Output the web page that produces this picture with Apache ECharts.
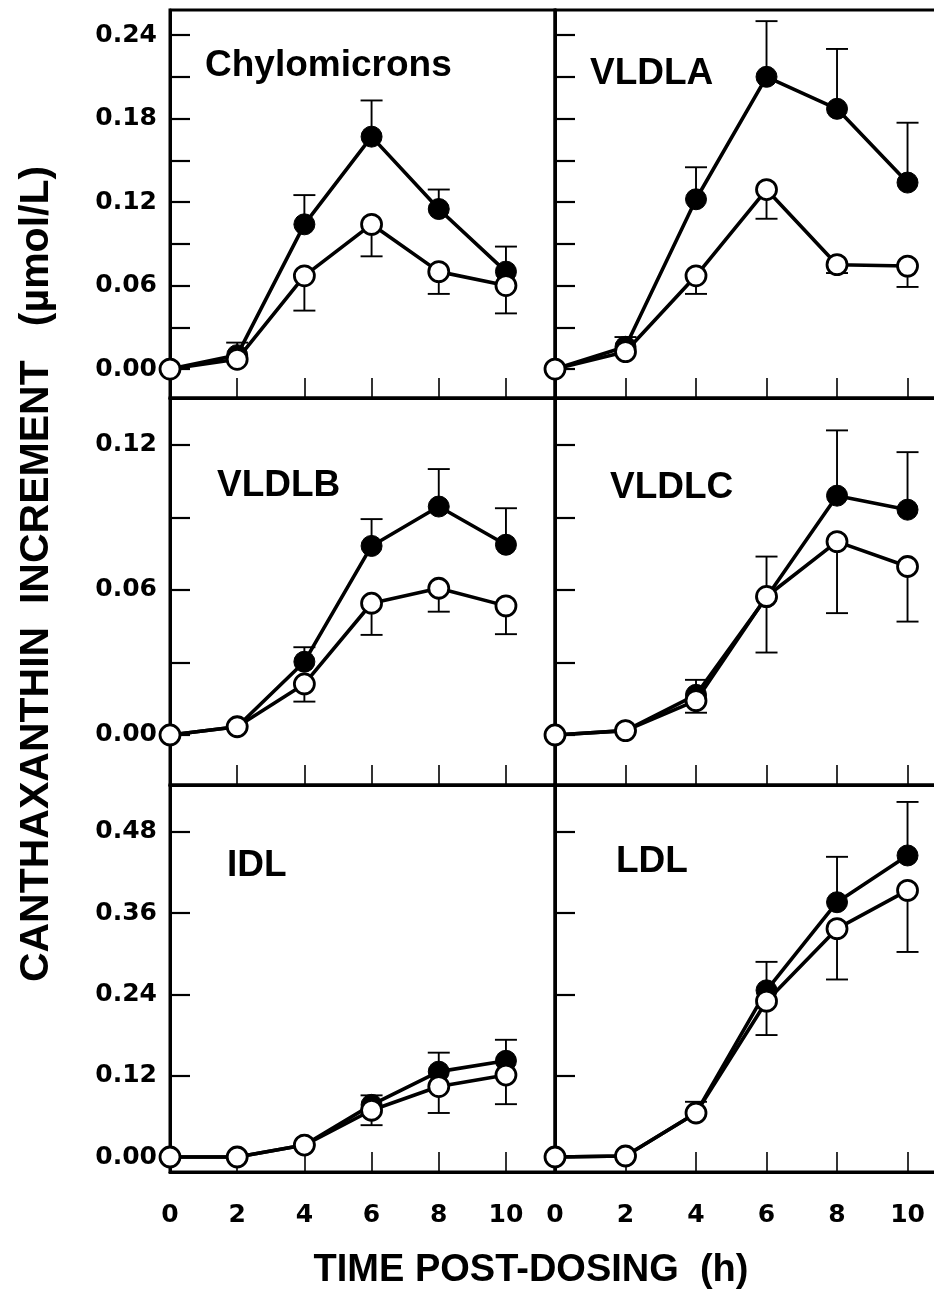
<!DOCTYPE html>
<html><head><meta charset="utf-8">
<script src="https://cdn.jsdelivr.net/npm/echarts@6/dist/echarts.min.js"></script>
<style>html,body{margin:0;padding:0;background:#fff;overflow:hidden}#c{width:980px;height:1298px}</style>
</head><body><div id="c"></div>
<script>
// ---- data ----
var timeHours = [0, 2, 4, 6, 8, 10];
var xTickLabels = [0, 2, 4, 6, 8, 10];
var xTickMarks = [2, 4, 6, 8, 10];

var panelNames = ['Chylomicrons', 'VLDLA', 'VLDLB', 'VLDLC', 'IDL', 'LDL'];

// filled circles (mean) and upper error bound; open circles (mean) and lower error bound
var chyloFilled      = [0, 0.010, 0.104, 0.167, 0.115, 0.070];
var chyloFilledUpper = [null, 0.019, 0.125, 0.193, 0.129, 0.088];
var chyloOpen        = [0, 0.007, 0.067, 0.104, 0.070, 0.060];
var chyloOpenLower   = [null, null, 0.042, 0.081, 0.054, 0.040];

var vldlaFilled      = [0, 0.016, 0.122, 0.210, 0.187, 0.134];
var vldlaFilledUpper = [null, 0.023, 0.145, 0.250, 0.230, 0.177];
var vldlaOpen        = [0, 0.0125, 0.067, 0.129, 0.075, 0.074];
var vldlaOpenLower   = [null, null, 0.054, 0.108, 0.069, 0.059];

var vldlbFilled      = [0, 0.0034, 0.0303, 0.0782, 0.0945, 0.0787];
var vldlbFilledUpper = [null, null, 0.0363, 0.0893, 0.110, 0.0938];
var vldlbOpen        = [0, 0.0034, 0.0211, 0.0545, 0.0607, 0.0534];
var vldlbOpenLower   = [null, null, 0.0138, 0.0414, 0.051, 0.0417];

var vldlcFilled      = [0, 0.0018, 0.0166, 0.057, 0.099, 0.0932];
var vldlcFilledUpper = [null, null, 0.0228, 0.0738, 0.126, 0.117];
var vldlcOpen        = [0, 0.0018, 0.0142, 0.0573, 0.080, 0.0697];
var vldlcOpenLower   = [null, null, 0.0092, 0.0341, 0.0504, 0.0469];

var idlFilled        = [0, 0, 0.0177, 0.077, 0.126, 0.142];
var idlFilledUpper   = [null, null, null, 0.091, 0.154, 0.173];
var idlOpen          = [0, 0, 0.0177, 0.069, 0.104, 0.121];
var idlOpenLower     = [null, null, null, 0.047, 0.065, 0.078];

var ldlFilled        = [0, 0.0015, 0.065, 0.246, 0.376, 0.445];
var ldlFilledUpper   = [null, null, 0.0815, 0.288, 0.443, 0.524];
var ldlOpen          = [0, 0.0015, 0.065, 0.230, 0.337, 0.3935];
var ldlOpenLower     = [null, null, null, 0.180, 0.262, 0.3026];

// y-axis tick marks and labels per row
var row1Ticks  = [0, 0.03, 0.06, 0.09, 0.12, 0.15, 0.18, 0.21, 0.24];
var row1Labels = [0, 0.06, 0.12, 0.18, 0.24];
var row2Ticks  = [0, 0.03, 0.06, 0.09, 0.12];
var row2Labels = [0, 0.06, 0.12];
var row3Ticks  = [0, 0.12, 0.24, 0.36, 0.48];
var row3Labels = [0, 0.12, 0.24, 0.36, 0.48];

var yTitle = 'CANTHAXANTHIN  INCREMENT   (\u00b5mol/L)';
var xTitle = 'TIME POST-DOSING  (h)';

// ---- layout ----
var panels = [
  {name: panelNames[0], f: chyloFilled, fu: chyloFilledUpper, o: chyloOpen, ol: chyloOpenLower, row: 0, col: 0, lx: 205, ly: 66},
  {name: panelNames[1], f: vldlaFilled, fu: vldlaFilledUpper, o: vldlaOpen, ol: vldlaOpenLower, row: 0, col: 1, lx: 590, ly: 74},
  {name: panelNames[2], f: vldlbFilled, fu: vldlbFilledUpper, o: vldlbOpen, ol: vldlbOpenLower, row: 1, col: 0, lx: 217, ly: 486},
  {name: panelNames[3], f: vldlcFilled, fu: vldlcFilledUpper, o: vldlcOpen, ol: vldlcOpenLower, row: 1, col: 1, lx: 610, ly: 488},
  {name: panelNames[4], f: idlFilled, fu: idlFilledUpper, o: idlOpen, ol: idlOpenLower, row: 2, col: 0, lx: 227, ly: 866},
  {name: panelNames[5], f: ldlFilled, fu: ldlFilledUpper, o: ldlOpen, ol: ldlOpenLower, row: 2, col: 1, lx: 616, ly: 862}
];
var rows = [
  {top: 10, height: 388, min: -0.0208, max: 0.258, ticks: row1Ticks, labels: row1Labels},
  {top: 398, height: 387, min: -0.0207, max: 0.1394, ticks: row2Ticks, labels: row2Labels},
  {top: 785, height: 387, min: -0.0221, max: 0.549, ticks: row3Ticks, labels: row3Labels}
];
var cols = [{left: 170, width: 385}, {left: 555, width: 404}];
var X_MAX = 11.46;
var tickFont = 'DejaVu Sans';
var textFont = '"Liberation Sans", Arial, sans-serif';

function errItem(params, api) {
  var x = api.value(0), m = api.value(1), b = api.value(2);
  var p0 = api.coord([x, m]), p1 = api.coord([x, b]);
  var hw = 11;
  var st = {stroke: '#000', lineWidth: 1.9};
  return {type: 'group', children: [
    {type: 'line', shape: {x1: p0[0], y1: p0[1], x2: p1[0], y2: p1[1]}, style: st},
    {type: 'line', shape: {x1: p1[0] - hw, y1: p1[1], x2: p1[0] + hw, y2: p1[1]}, style: st}
  ]};
}
function pairs(ys) { return timeHours.map(function (t, i) { return [t, ys[i]]; }); }
function errData(means, bounds) {
  var out = [];
  timeHours.forEach(function (t, i) { if (bounds[i] != null) out.push([t, means[i], bounds[i]]); });
  return out;
}

var grids = [], xAxes = [], yAxes = [], series = [], graphics = [];
panels.forEach(function (p, k) {
  var r = rows[p.row], c = cols[p.col];
  grids.push({left: c.left, width: c.width, top: r.top, height: r.height, show: true,
    borderColor: '#000', borderWidth: 3, backgroundColor: 'transparent',
    containLabel: false, outerBoundsMode: 'none'});
  xAxes.push({type: 'value', gridIndex: k, min: 0, max: X_MAX,
    axisLine: {show: true, onZero: false, lineStyle: {color: '#000', width: 3}},
    axisTick: {show: true, inside: true, length: 20, customValues: xTickMarks, lineStyle: {color: '#000', width: 1.6}},
    axisLabel: {show: p.row === 2, customValues: xTickLabels, margin: 31,
      color: '#000', fontFamily: tickFont, fontWeight: 'bold', fontSize: 25},
    splitLine: {show: false}});
  yAxes.push({type: 'value', gridIndex: k, min: r.min, max: r.max,
    axisLine: {show: true, onZero: false, lineStyle: {color: '#000', width: 3}},
    axisTick: {show: true, inside: true, length: 20, customValues: r.ticks, lineStyle: {color: '#000', width: 2.2}},
    axisLabel: {show: p.col === 0, customValues: r.labels, margin: 13,
      formatter: function (v) { return Number(v).toFixed(2); },
      color: '#000', fontFamily: tickFont, fontWeight: 'bold', fontSize: 25},
    splitLine: {show: false}});
  series.push({type: 'custom', xAxisIndex: k, yAxisIndex: k, renderItem: errItem,
    data: errData(p.f, p.fu), z: 1, clip: false, silent: true});
  series.push({type: 'custom', xAxisIndex: k, yAxisIndex: k, renderItem: errItem,
    data: errData(p.o, p.ol), z: 1, clip: false, silent: true});
  series.push({type: 'line', xAxisIndex: k, yAxisIndex: k, data: pairs(p.f), z: 2, clip: false,
    symbol: 'circle', symbolSize: 21, showAllSymbol: true,
    lineStyle: {color: '#000', width: 3.6}, itemStyle: {color: '#000', borderColor: '#000', borderWidth: 1}});
  series.push({type: 'line', xAxisIndex: k, yAxisIndex: k, data: pairs(p.o), z: 3, clip: false,
    symbol: 'circle', symbolSize: 20, showAllSymbol: true,
    lineStyle: {color: '#000', width: 3.6}, itemStyle: {color: '#fff', borderColor: '#000', borderWidth: 2.8}});
  graphics.push({type: 'text', x: p.lx, y: p.ly, z: 10,
    style: {text: p.name, fill: '#000', font: 'bold 37px ' + textFont, align: 'left', verticalAlign: 'middle'}});
});

graphics.push({type: 'text', x: 37, y: 574, rotation: Math.PI / 2, z: 10,
  style: {text: yTitle, fill: '#000', font: 'bold 41px ' + textFont, align: 'center', verticalAlign: 'middle'}});
graphics.push({type: 'text', x: 531, y: 1271, z: 10,
  style: {text: xTitle, fill: '#000', font: 'bold 38px ' + textFont, align: 'center', verticalAlign: 'middle'}});

var chart = echarts.init(document.getElementById('c'), null, {renderer: 'canvas'});
chart.setOption({
  animation: false,
  backgroundColor: '#fff',
  grid: grids, xAxis: xAxes, yAxis: yAxes, series: series, graphic: graphics
});
</script>
</body></html>
